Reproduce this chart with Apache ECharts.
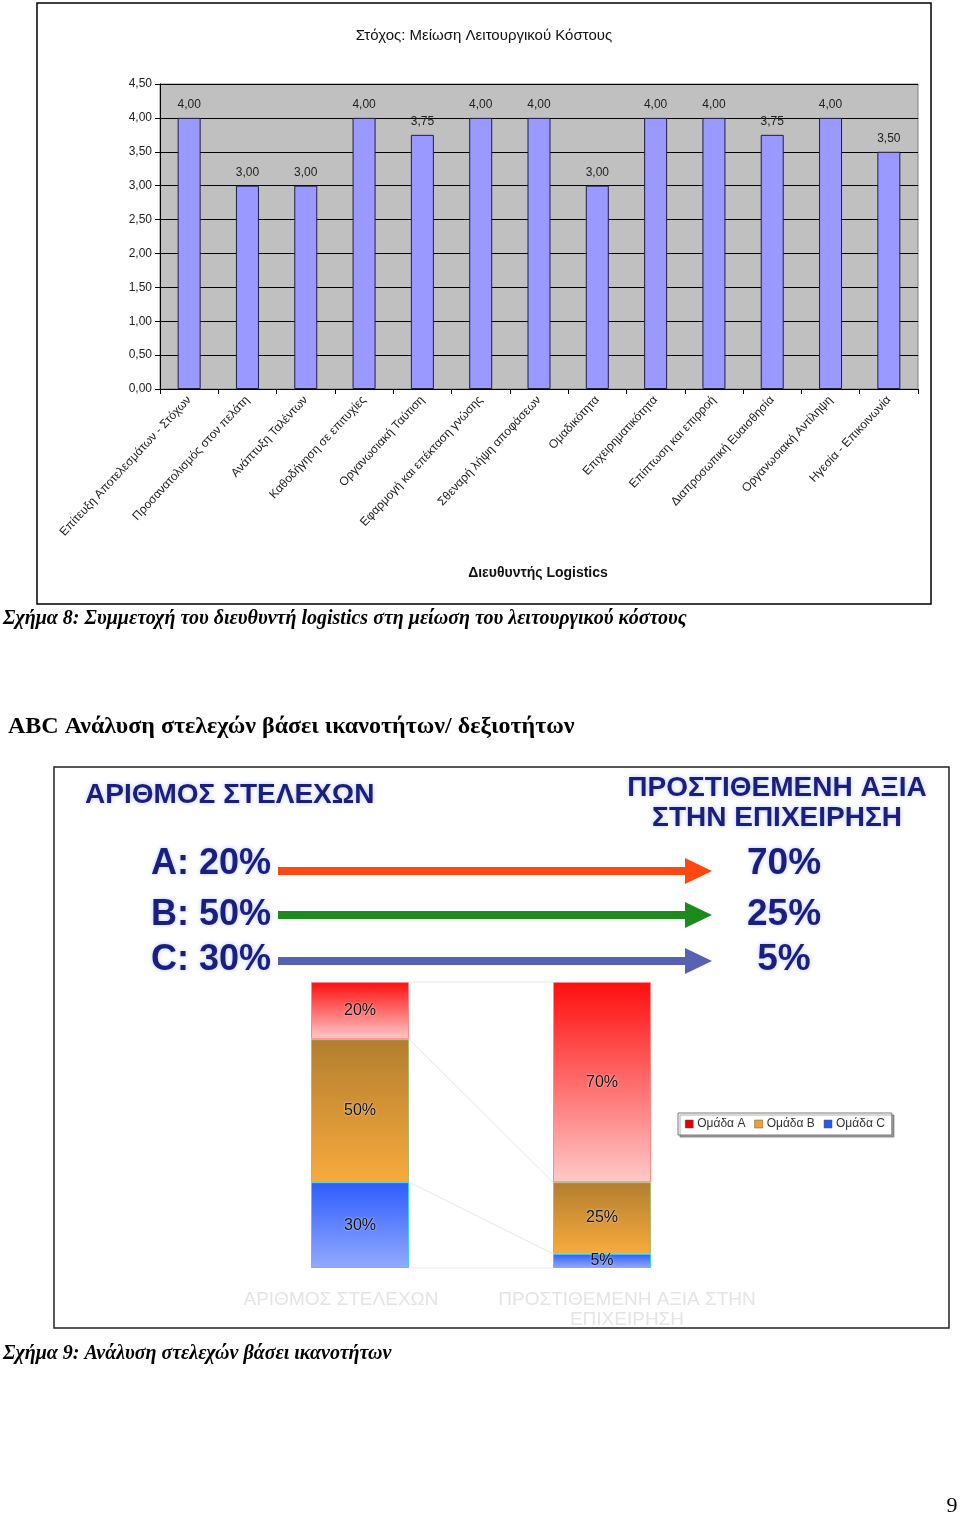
<!DOCTYPE html>
<html><head><meta charset="utf-8">
<script src="https://cdn.jsdelivr.net/npm/echarts@6/dist/echarts.min.js"></script>
<style>html,body{margin:0;padding:0;background:#fff}#c{width:960px;height:1516px}</style>
</head><body><div id="c"></div>
<script>
// ---- Chart 1 data ----
const competencies = [
  'Επίτευξη Αποτελεσμάτων - Στόχων',
  'Προσανατολισμός στον πελάτη',
  'Ανάπτυξη Ταλέντων',
  'Καθοδήγηση σε επιτυχίες',
  'Οργανωσιακή Ταύτιση',
  'Εφαρμογή και επέκταση γνώσης',
  'Σθεναρή λήψη αποφάσεων',
  'Ομαδικότητα',
  'Επιχειρηματικότητα',
  'Επίπτωση και επιρροή',
  'Διαπροσωπική Ευαισθησία',
  'Οργανωσιακή Αντίληψη',
  'Ηγεσία - Επικοινωνία'
];
const scores = [4.00, 3.00, 3.00, 4.00, 3.75, 4.00, 4.00, 3.00, 4.00, 4.00, 3.75, 4.00, 3.50];
const chart1Title = 'Στόχος: Μείωση Λειτουργικού Κόστους';
const chart1AxisName = 'Διευθυντής Logistics';

// ---- Chart 2 data ----
const groups = ['A', 'B', 'C'];
const groupNames = ['Ομάδα A', 'Ομάδα B', 'Ομάδα C'];
const staffPct = [20, 50, 30];
const valuePct = [70, 25, 5];
const chart2Cats = ['ΑΡΙΘΜΟΣ ΣΤΕΛΕΧΩΝ', 'ΠΡΟΣΤΙΘΕΜΕΝΗ ΑΞΙΑ ΣΤΗΝ\nΕΠΙΧΕΙΡΗΣΗ'];

// ---- page texts ----
const caption8 = 'Σχήμα 8: Συμμετοχή του διευθυντή logistics στη μείωση του λειτουργικού κόστους';
const heading = 'ABC Ανάλυση στελεχών βάσει ικανοτήτων/ δεξιοτήτων';
const caption9 = 'Σχήμα 9: Ανάλυση στελεχών βάσει ικανοτήτων';
const pageNo = '9';

const comma = v => v.toFixed(2).replace('.', ',');
const SANS = "'Liberation Sans', Arial, sans-serif";
const SERIF = "'Liberation Serif', 'Times New Roman', serif";

const grad = (top, bottom) => new echarts.graphic.LinearGradient(0, 0, 0, 1, [{offset: 0, color: top}, {offset: 1, color: bottom}]);
const segStyle = {
  A: {color: grad('#FF0E0E', '#FFC9C9'), borderColor: '#FF8A8A', legend: '#E00000'},
  B: {color: grad('#B27E30', '#F8AA3C'), borderColor: '#9CC27A', legend: '#F0A030'},
  C: {color: grad('#2E5CFF', '#93AAFF'), borderColor: '#3CCFF0', legend: '#2858F0'}
};

const arrowColors = ['#FF4712', '#1C8A1C', '#5862B2'];
const arrowY = [871, 915, 961];
const textY = [864, 915, 960];
const navy = '#1A1E7E';
const glow = {textShadowColor: 'rgba(140,160,255,0.6)', textShadowBlur: 4};

const chart = echarts.init(document.getElementById('c'), null, {renderer: 'canvas'});

const graphics = [
  {type: 'rect', shape: {x: 37, y: 3, width: 894, height: 601}, style: {fill: 'none', stroke: '#000', lineWidth: 1.5}},
  {type: 'rect', shape: {x: 54, y: 767, width: 895, height: 561}, style: {fill: 'none', stroke: '#222', lineWidth: 1.5}},
  {type: 'text', x: 484, y: 36, style: {text: chart1Title, font: '15px ' + SANS, fill: '#111', textAlign: 'center', textVerticalAlign: 'middle'}},
  {type: 'text', x: 538, y: 573, style: {text: chart1AxisName, font: 'bold 14px ' + SANS, fill: '#111', textAlign: 'center', textVerticalAlign: 'middle'}},
  {type: 'text', x: 3, y: 619, style: {text: caption8, font: 'italic bold 20px ' + SERIF, fill: '#000', textAlign: 'left', textVerticalAlign: 'middle'}},
  {type: 'text', x: 8, y: 727, style: {text: heading, font: 'bold 24px ' + SERIF, fill: '#000', textAlign: 'left', textVerticalAlign: 'middle'}},
  {type: 'text', x: 3, y: 1354, style: {text: caption9, font: 'italic bold 20px ' + SERIF, fill: '#000', textAlign: 'left', textVerticalAlign: 'middle'}},
  {type: 'text', x: 952, y: 1506, style: {text: pageNo, font: '22px ' + SERIF, fill: '#000', textAlign: 'center', textVerticalAlign: 'middle'}},
  // chart 2 headings
  {type: 'text', x: 85, y: 795, style: Object.assign({text: 'ΑΡΙΘΜΟΣ ΣΤΕΛΕΧΩΝ', font: 'bold 28px ' + SANS, fill: navy, textAlign: 'left', textVerticalAlign: 'middle'}, glow)},
  {type: 'text', x: 777, y: 788, style: Object.assign({text: 'ΠΡΟΣΤΙΘΕΜΕΝΗ ΑΞΙΑ', font: 'bold 28px ' + SANS, fill: navy, textAlign: 'center', textVerticalAlign: 'middle'}, glow)},
  {type: 'text', x: 777, y: 818, style: Object.assign({text: 'ΣΤΗΝ ΕΠΙΧΕΙΡΗΣΗ', font: 'bold 28px ' + SANS, fill: navy, textAlign: 'center', textVerticalAlign: 'middle'}, glow)}
];
groups.forEach((g, i) => {
  const y = arrowY[i];
  graphics.push({type: 'text', x: 211, y: textY[i], style: Object.assign({text: g + ': ' + staffPct[i] + '%', font: 'bold 36px ' + SANS, fill: navy, textAlign: 'center', textVerticalAlign: 'middle'}, glow)});
  graphics.push({type: 'text', x: 784, y: textY[i], style: Object.assign({text: valuePct[i] + '%', font: 'bold 37px ' + SANS, fill: navy, textAlign: 'center', textVerticalAlign: 'middle'}, glow)});
  graphics.push({type: 'rect', shape: {x: 278, y: y - 4, width: 410, height: 8}, style: {fill: arrowColors[i]}});
  graphics.push({type: 'polygon', shape: {points: [[685, y - 13], [712, y], [685, y + 13]]}, style: {fill: arrowColors[i]}});
});

// stacked series (bottom first: C, B, A)
const order = [2, 1, 0];
const stackSeries = order.map(i => ({
  name: groupNames[i],
  type: 'bar',
  stack: 'abc',
  xAxisIndex: 1, yAxisIndex: 1,
  barWidth: 98,
  data: [staffPct[i], valuePct[i]],
  itemStyle: {color: segStyle[groups[i]].color, borderColor: segStyle[groups[i]].borderColor, borderWidth: 1},
  label: {show: true, position: 'inside', formatter: p => p.value + '%', fontFamily: SANS, fontSize: 16, color: '#111', textShadowColor: 'rgba(255,255,255,0.8)', textShadowBlur: 2},
  emphasis: {disabled: true}
}));

chart.setOption({
  animation: false,
  backgroundColor: '#fff',
  textStyle: {fontFamily: SANS},
  grid: [
    {left: 160, top: 84, width: 758, height: 305, show: true, backgroundColor: '#C0C0C0', borderColor: '#808080', borderWidth: 1},
    {left: 239, top: 982, width: 484, height: 286}
  ],
  xAxis: [
    {gridIndex: 0, type: 'category', data: competencies,
      axisLine: {lineStyle: {color: '#000'}},
      axisTick: {show: true, length: 5, lineStyle: {color: '#000'}},
      axisLabel: {interval: 0, rotate: 47, margin: 9, fontSize: 12, color: '#222', fontFamily: SANS}},
    {gridIndex: 1, type: 'category', data: chart2Cats,
      axisLine: {show: false}, axisTick: {show: false},
      axisLabel: {interval: 0, margin: 22, color: '#E4E4E4', fontFamily: SANS,
        formatter: (v, idx) => v.split('\n').map(s => '{' + (idx === 0 ? 'a' : 'b') + '|' + s + '}').join('\n'),
        rich: {
          a: {fontSize: 19, color: '#E4E4E4', lineHeight: 20, padding: [0, 38, 0, 0]},
          b: {fontSize: 19, color: '#E4E4E4', lineHeight: 20, padding: [0, 0, 0, 50]}
        }}}
  ],
  yAxis: [
    {gridIndex: 0, type: 'value', min: 0, max: 4.5, interval: 0.5,
      axisLine: {show: true, lineStyle: {color: '#000'}},
      axisTick: {show: true, length: 5, lineStyle: {color: '#000'}},
      splitLine: {lineStyle: {color: '#000', width: 1}},
      axisLabel: {formatter: comma, fontSize: 12, color: '#222', margin: 8, fontFamily: SANS}},
    {gridIndex: 1, type: 'value', min: 0, max: 100, show: false, splitLine: {show: false}}
  ],
  legend: {
    data: groupNames.map((n, i) => ({name: n, itemStyle: {color: segStyle[groups[i]].legend, borderColor: '#555', borderWidth: 0.5}})),
    left: 678, top: 1113, orient: 'horizontal',
    icon: 'rect', itemWidth: 8, itemHeight: 8, itemGap: 9,
    padding: [5, 7], borderColor: '#7A7A7A', borderWidth: 1, backgroundColor: '#fff',
    shadowColor: 'rgba(0,0,0,0.35)', shadowOffsetX: 2, shadowOffsetY: 2, shadowBlur: 1,
    textStyle: {fontSize: 12, color: '#333', fontFamily: SANS, padding: [0, 0, 0, -1]},
    selectedMode: false
  },
  graphic: graphics,
  series: [
    {type: 'bar', xAxisIndex: 0, yAxisIndex: 0, data: scores, barWidth: 23,
      itemStyle: {color: '#9999FF', borderColor: '#1E1E46', borderWidth: 1},
      label: {show: true, position: 'top', distance: 7, formatter: p => comma(p.value), fontSize: 12, color: '#222', fontFamily: SANS},
      emphasis: {disabled: true}},
    ...stackSeries
  ]
});

// series lines between the stacked bars (Excel style), derived from the data through the axes
const cumL = [0], cumR = [0];
order.forEach(i => { cumL.push(cumL[cumL.length - 1] + staffPct[i]); cumR.push(cumR[cumR.length - 1] + valuePct[i]); });
const half = 49;
const lines = cumL.map((v, k) => {
  const p0 = chart.convertToPixel({xAxisIndex: 1, yAxisIndex: 1}, [0, v]);
  const p1 = chart.convertToPixel({xAxisIndex: 1, yAxisIndex: 1}, [1, cumR[k]]);
  return {type: 'line', z: 1, shape: {x1: p0[0] + half, y1: p0[1], x2: p1[0] - half, y2: p1[1]}, style: {stroke: '#E6E6E6', lineWidth: 1}};
});
chart.setOption({graphic: graphics.concat(lines)});
</script></body></html>
